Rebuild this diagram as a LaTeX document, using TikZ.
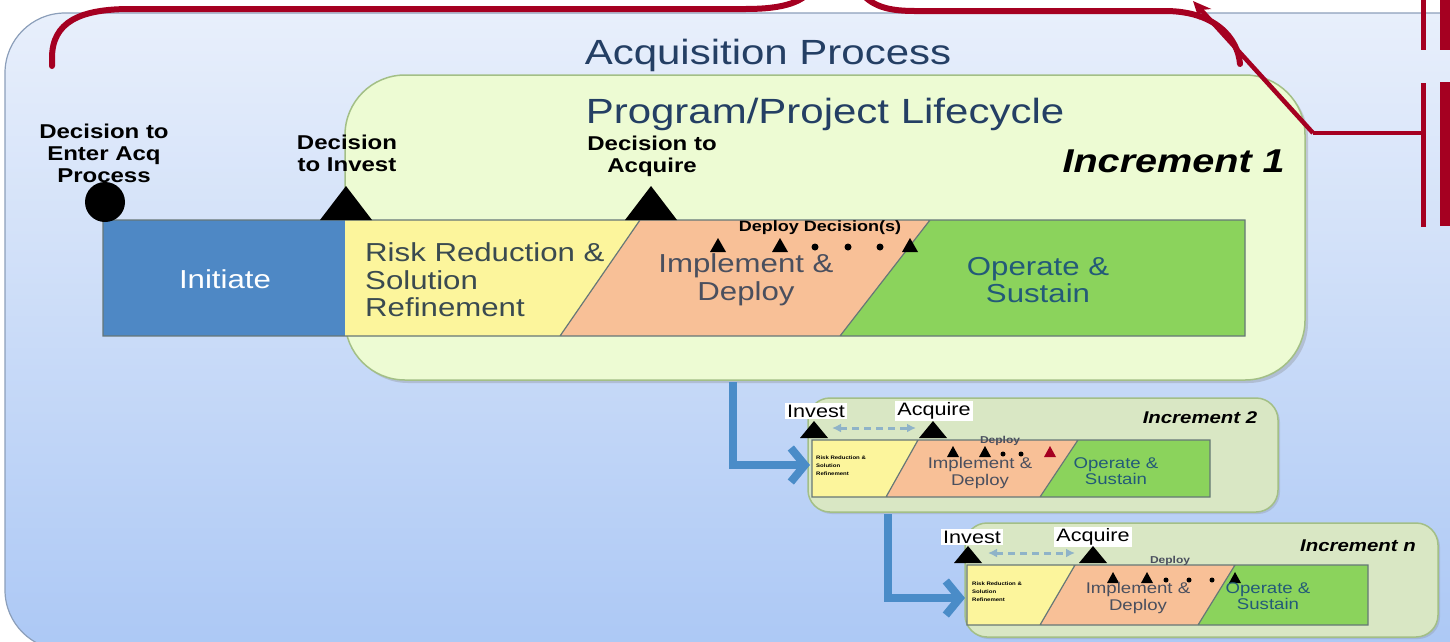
\documentclass[tikz,border=0pt]{standalone}
\usepackage{fontspec}
\setmainfont{Liberation Sans}[FakeStretch=1.2]
\usetikzlibrary{
	arrows.meta,
	shadows,
}
\definecolor{acqred}{HTML}{A50021}
\definecolor{bgtop}{HTML}{E8EFFB}
\definecolor{bgbot}{HTML}{ACC8F5}
\definecolor{bgedge}{HTML}{8C9FBA}
\definecolor{navy}{HTML}{243F64}
\definecolor{lcfill}{HTML}{EDFBD3}
\definecolor{lcedge}{HTML}{A3BF86}
\definecolor{incfill}{HTML}{D9E7C4}
\definecolor{initblue}{HTML}{4E88C5}
\definecolor{rrsr}{HTML}{FCF59C}
\definecolor{impl}{HTML}{F8C097}
\definecolor{ops}{HTML}{8BD35C}
\definecolor{bandgray}{HTML}{667777}
\definecolor{flowblue}{HTML}{4A8CC8}
\definecolor{waitblue}{HTML}{8FB3C8}
\definecolor{opstext}{HTML}{235A78}
\definecolor{impltext}{HTML}{4A4F5E}
\definecolor{rrtext}{HTML}{3A4A50}
\tikzset{
	ttl/.style={text=navy, font=\fontsize{35}{38}\selectfont, inner sep=0pt},
	incname/.style={font=\bfseries\itshape\fontsize{#1}{#1}\selectfont, inner sep=0pt},
	decision/.style={font=\bfseries\fontsize{20}{22}\selectfont, align=center, inner sep=0pt},
	phase/.style={font=\fontsize{26}{27.5}\selectfont, align=center, inner sep=0pt},
	smallphase/.style={font=\fontsize{15.5}{16.5}\selectfont, align=center, inner sep=0pt},
	milestone/.style={fill=white, inner sep=2pt, font=\fontsize{18}{20}\selectfont},
	bandline/.style={draw=bandgray, line width=1.2pt},
	incbox/.style={fill=incfill, draw=lcedge, line width=1.5pt, rounded corners=22pt,
		drop shadow={opacity=0.25, shadow xshift=2pt, shadow yshift=-2pt}},
	flow/.style={draw=flowblue, line width=8pt, -{Straight Barb[length=14pt, width=34pt]}},
	waitarrow/.style={draw=waitblue, line width=3pt, dash pattern=on 7pt off 5pt,
		{Latex[length=9pt, width=9pt]}-{Latex[length=9pt, width=9pt]}},
	redline/.style={draw=acqred, line width=6pt},
}
\begin{document}
\begin{tikzpicture}[x=1pt, y=-1pt]
	\useasboundingbox (0,0) rectangle (1450,641);
	\clip (0,0) rectangle (1450,641);
	\fill[white] (0,0) rectangle (1450,641);
	\draw[draw=bgedge, line width=1.2pt, top color=bgtop, bottom color=bgbot, rounded corners=60pt] (5,13) rectangle (1530,650);
	\node[ttl] (acq) at (768,55) {Acquisition Process};

	% increment 1
	\draw[fill=lcfill, draw=lcedge, line width=1.5pt, rounded corners=60pt,
		drop shadow={opacity=0.3, shadow xshift=3pt, shadow yshift=-3pt}] (345,75) rectangle (1305,380);
	\node[ttl] (plc) at (825,114) {Program/Project Lifecycle};
	\node[incname=33, anchor=east] (inc1) at (1285,161) {Increment 1};
	\fill[initblue] (103,220) rectangle (345,336);
	\fill[rrsr] (345,220) -- (640,220) -- (560,336) -- (345,336) -- cycle;
	\fill[impl] (640,220) -- (930,220) -- (840,336) -- (560,336) -- cycle;
	\fill[ops] (930,220) -- (1245,220) -- (1245,336) -- (840,336) -- cycle;
	\draw[bandline] (103,220) rectangle (1245,336) (640,220) -- (560,336) (930,220) -- (840,336);
	\node[phase, text=white] (init) at (225,279) {Initiate};
	\node[phase, text=rrtext, align=left, anchor=west] (rr1) at (365,280) {Risk Reduction \&\\Solution\\Refinement};
	\node[phase, text=impltext] (id1) at (746,280) {Implement \&\\Deploy};
	\node[phase, text=opstext] (os1) at (1038,280) {Operate \&\\Sustain};
	\fill (105,202) circle (20pt);
	\node[decision] (enter) at (104,153) {Decision to\\Enter Acq\\Process};
	\fill (320,220) -- (346,186) -- (372,220) -- cycle;
	\node[decision] (invest) at (347,153) {Decision\\to Invest};
	\fill (625,220) -- (651,186) -- (677,220) -- cycle;
	\node[decision] (acquire) at (652,156) {Decision to\\Acquire};
	\node[font=\bfseries\fontsize{15}{15}\selectfont, inner sep=0pt] (dd1) at (820,228) {Deploy Decision(s)};
	\foreach \x in {718,780,910}
		\fill (\x-8,252) -- (\x,238) -- (\x+8,252) -- cycle;
	\foreach \x in {815,848,880}
		\fill (\x,247) circle (3.5pt);

	% increment 2
	\draw[incbox] (808,398) rectangle (1278,512);
	\fill[rrsr] (812,440) -- (918,440) -- (886,497) -- (812,497) -- cycle;
	\fill[impl] (918,440) -- (1078,440) -- (1040,497) -- (886,497) -- cycle;
	\fill[ops] (1078,440) -- (1210,440) -- (1210,497) -- (1040,497) -- cycle;
	\draw[bandline] (812,440) rectangle (1210,497) (918,440) -- (886,497) (1078,440) -- (1040,497);
	\node[incname=17] (inc2) at (1200,418) {Increment 2};
	\node[milestone] (inv2) at (816,411) {Invest};
	\node[milestone] (acq2) at (934,411) {Acquire};
	\fill (800,438) -- (814,421) -- (828,438) -- cycle;
	\fill (919,438) -- (933,421) -- (947,438) -- cycle;
	\coordinate (w2a) at (832,428);
	\coordinate (w2b) at (916,428);
	\draw[waitarrow] (w2a) -- (w2b);
	\node[font=\bfseries\fontsize{10}{10}\selectfont, text=impltext, inner sep=0pt] (dd2) at (1000,441) {Deploy};
	\foreach \x in {953,985}
		\fill (\x-6,457) -- (\x,446) -- (\x+6,457) -- cycle;
	\fill[acqred] (1044,457) -- (1050,446) -- (1056,457) -- cycle;
	\foreach \x in {1003,1021}
		\fill (\x,454) circle (2.5pt);
	\node[font=\bfseries\fontsize{5}{8}\selectfont, align=left, anchor=west, inner sep=0pt] (rr2) at (816,466) {Risk Reduction \&\\Solution\\Refinement};
	\node[smallphase, text=impltext] (id2) at (980,473) {Implement \&\\Deploy};
	\node[smallphase, text=opstext] (os2) at (1116,471) {Operate \&\\Sustain};

	% increment n
	\draw[incbox] (965,523) rectangle (1438,637);
	\fill[rrsr] (967,565) -- (1075,565) -- (1040,625) -- (967,625) -- cycle;
	\fill[impl] (1075,565) -- (1235,565) -- (1198,625) -- (1040,625) -- cycle;
	\fill[ops] (1235,565) -- (1368,565) -- (1368,625) -- (1198,625) -- cycle;
	\draw[bandline] (967,565) rectangle (1368,625) (1075,565) -- (1040,625) (1235,565) -- (1198,625);
	\node[incname=17] (incn) at (1358,546) {Increment \textit{n}};
	\node[milestone] (invn) at (972,537) {Invest};
	\node[milestone] (acqn) at (1093,537) {Acquire};
	\fill (954,563) -- (968,546) -- (982,563) -- cycle;
	\fill (1079,563) -- (1093,546) -- (1107,563) -- cycle;
	\coordinate (wna) at (988,553);
	\coordinate (wnb) at (1075,553);
	\draw[waitarrow] (wna) -- (wnb);
	\node[font=\bfseries\fontsize{10}{10}\selectfont, text=impltext, inner sep=0pt] (ddn) at (1170,561) {Deploy};
	\foreach \x in {1113,1147,1235}
		\fill (\x-6,583) -- (\x,572) -- (\x+6,583) -- cycle;
	\foreach \x in {1166,1189,1212}
		\fill (\x,580) circle (2.5pt);
	\node[font=\bfseries\fontsize{5}{8}\selectfont, align=left, anchor=west, inner sep=0pt] (rrn) at (972,592) {Risk Reduction \&\\Solution\\Refinement};
	\node[smallphase, text=impltext] (idn) at (1138,598) {Implement \&\\Deploy};
	\node[smallphase, text=opstext] (osn) at (1268,596) {Operate \&\\Sustain};

	% flow between increments
	\coordinate (f1a) at (733,382);
	\coordinate (f1b) at (810,465);
	\draw[flow] (f1a) |- (f1b);
	\coordinate (f2a) at (888,514);
	\coordinate (f2b) at (965,598);
	\draw[flow] (f2a) |- (f2b);

	% red markup
	\draw[redline, line cap=round] (52,66) -- (52,58) .. controls (52,22) and (80,9) .. (130,9) -- (745,9) .. controls (785,9) and (805,2) .. (815,-15);
	\draw[redline, line cap=round] (855,-15) .. controls (868,4) and (882,11) .. (915,11) -- (1165,11) .. controls (1215,11) and (1238,38) .. (1240,64);
	\coordinate (R) at (1313,133);
	\coordinate (T) at (1193,1);
	\coordinate (S) at (1423,133);
	\draw[draw=acqred, line width=4.5pt, -{Stealth[length=18pt, width=16pt]}] (R) -- (T);
	\draw[draw=acqred, line width=4.5pt] (R) -- (S);
	\draw[draw=acqred, line width=5pt] (1423,83) -- (1423,227) (1423,-5) -- (1423,50);
	\draw[draw=acqred, line width=10pt] (1445,82) -- (1445,226) (1445,-5) -- (1445,50);
\end{tikzpicture}
\end{document}
